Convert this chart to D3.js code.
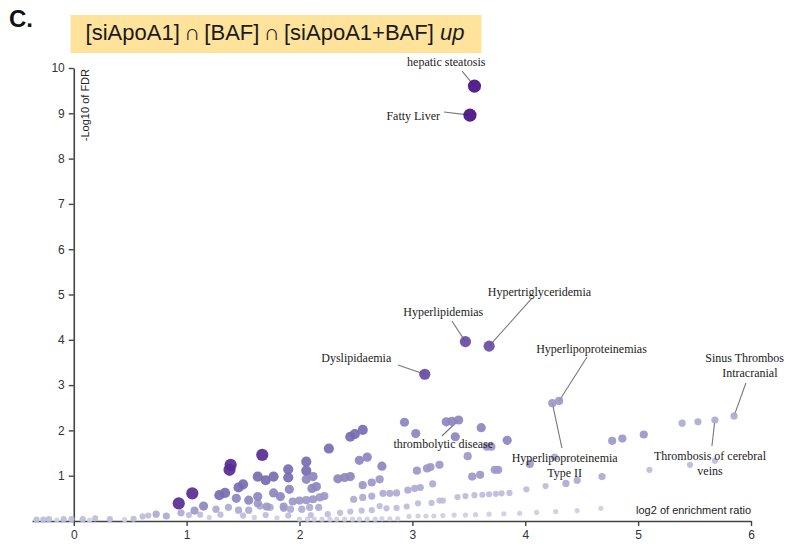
<!DOCTYPE html>
<html><head><meta charset="utf-8">
<script src="https://cdn.jsdelivr.net/npm/d3@7"></script>
<style>body{margin:0;background:#fff} svg{display:block}</style>
</head><body><svg id="c" width="787" height="550"></svg>
<script>
// ---------- data ----------
const xTicks = [0, 1, 2, 3, 4, 5, 6];
const yTicks = [1, 2, 3, 4, 5, 6, 7, 8, 9, 10];
const xTitle = "log2 of enrichment ratio";
const yTitle = "-Log10 of FDR";

// labelled terms
const termNames = ["hepatic steatosis", "Fatty Liver", "Hyperlipidemias", "Hypertriglyceridemia", "Dyslipidaemia",
  "Hyperlipoproteinemias", "Hyperlipoproteinemia Type II", "thrombolytic disease", "Thrombosis of cerebral veins",
  "Sinus Thrombos Intracranial"];
const termX = [3.55, 3.51, 3.47, 3.68, 3.11, 4.30, 4.24, 3.41, 5.68, 5.85];
const termY = [9.60, 8.96, 3.96, 3.86, 3.24, 2.65, 2.60, 2.23, 2.23, 2.32];
const termLevel = [9, 9, 7, 7, 7, 4, 4, 5, 3, 3];

// other terms, grouped by overlap level (1 = smallest overlap)
const level8 = [[0.93,0.39],[1.05,0.61],[1.38,1.13],[1.39,1.24],[1.67,1.46]];
const level6 = [[2.26,1.60],[2.45,1.86],[2.49,1.92],[2.56,2.01],[1.29,0.57],[1.34,0.62],[1.46,0.74],[1.50,0.81],
  [1.63,0.98],[1.70,0.90],[1.77,0.98],[1.90,1.14],[1.90,0.96],[2.06,1.31],[2.06,1.11]];
const level5 = [[2.53,1.34],[2.60,1.41],[2.73,1.21],[2.93,2.18],[3.03,1.93],[3.30,2.19],[3.35,2.20],[3.38,1.86],
  [3.61,2.06],[3.84,1.78],[1.15,0.33],[1.44,0.50],[1.55,0.46],[1.63,0.54],[1.77,0.62],[1.83,0.54],[2.06,0.92],
  [2.12,0.98],[2.11,0.72],[2.15,0.76],[2.34,0.93],[2.40,0.96],[2.45,0.98],[1.91,0.70]];
const level4 = [[3.49,1.43],[3.66,1.64],[3.70,1.64],[3.13,1.16],[3.16,1.19],[3.24,1.24],[3.04,1.11],[3.53,0.98],
  [3.60,1.02],[3.73,1.13],[3.76,1.13],[2.56,0.79],[2.64,0.85],[2.71,0.92],[1.07,0.23],[1.63,0.39],[1.71,0.32],
  [1.86,0.32],[1.94,0.43],[2.00,0.45],[2.06,0.46],[2.12,0.48],[2.18,0.52],[2.22,0.55],[4.77,1.77],[4.86,1.82],
  [5.05,1.91],[4.04,1.26]];
const level3 = [[5.39,2.16],[5.53,2.19],[4.26,1.41],[2.48,0.48],[2.56,0.52],[2.64,0.55],[2.74,0.61],[2.80,0.61],
  [2.86,0.62],[2.96,0.68],[3.02,0.72],[3.07,0.74],[3.18,0.82],[4.36,0.83],[4.46,0.90],[4.68,0.98],[0.95,0.18],
  [1.26,0.26],[1.37,0.30],[1.46,0.24],[1.55,0.24],[1.65,0.33],[1.74,0.30],[1.86,0.28],[1.92,0.26],[2.02,0.26],
  [2.09,0.30],[2.17,0.30],[0.73,0.15],[0.82,0.11]];
const level2 = [[5.10,1.13],[5.46,1.24],[5.68,1.33],[3.05,0.39],[3.17,0.40],[3.24,0.45],[3.27,0.45],[3.40,0.53],
  [3.47,0.55],[3.55,0.57],[3.62,0.58],[3.68,0.59],[3.74,0.60],[3.79,0.61],[3.86,0.62],[4.01,0.70],[4.18,0.77],
  [2.36,0.18],[2.45,0.21],[2.55,0.23],[2.64,0.24],[2.71,0.33],[2.77,0.28],[2.86,0.29],[2.95,0.32],[0.61,0.10],
  [0.66,0.12],[1.02,0.13],[1.12,0.14],[1.30,0.14],[1.50,0.12],[1.70,0.13],[1.90,0.12],[2.10,0.13],[2.25,0.15],
  [-0.33,0.03],[-0.27,0.03],[-0.22,0.04],[-0.09,0.04],[-0.02,0.04],[0.08,0.04],[0.19,0.06],[0.32,0.04],[0.53,0.05]];
const level1 = [[2.00,0.04],[2.07,0.04],[2.13,0.04],[2.20,0.04],[2.27,0.04],[2.33,0.04],[2.40,0.04],[2.47,0.04],
  [2.53,0.04],[2.60,0.04],[2.67,0.04],[2.73,0.05],[2.80,0.05],[2.87,0.05],[2.97,0.10],[3.05,0.11],[3.12,0.11],
  [3.19,0.11],[3.27,0.12],[3.37,0.13],[3.47,0.13],[3.56,0.14],[3.68,0.15],[3.81,0.16],[3.95,0.17],[4.10,0.19],
  [4.27,0.21],[4.46,0.23],[4.67,0.28],[-0.15,0.02],[0.14,0.02],[0.45,0.03],[1.20,0.08],[1.60,0.08],[1.80,0.07]];

// ---------- drawing ----------
const svg = d3.select("#c");
const x = d3.scaleLinear().domain([-0.37, 6]).range([32, 751]);
const y = d3.scaleLinear().domain([0, 10]).range([521, 68]);
const col = d3.scaleLinear().domain([1, 5, 9]).range([0.3, 0.58, 0.95]);
const rad = d3.scaleLinear().domain([1, 9]).range([2.6, 6.6]);
const color = l => d3.interpolatePurples(col(l));

// title
svg.append("text").attr("x", 9).attr("y", 27).attr("font-family", "Liberation Sans, Arial, sans-serif")
  .attr("font-size", 24).attr("font-weight", "bold").attr("fill", "#111").text("C.");
svg.append("rect").attr("x", 70.5).attr("y", 15).attr("width", 411).attr("height", 38).attr("fill", "#FFE39B");
const tt = svg.append("text").attr("x", 275).attr("y", 40).attr("text-anchor", "middle")
  .attr("font-family", "Liberation Sans, Arial, sans-serif").attr("font-size", 22).attr("fill", "#1a1a1a");
tt.append("tspan").text("[siApoA1]\u2009∩\u2009[BAF]\u2009∩\u2009[siApoA1+BAF] ");
tt.append("tspan").attr("font-style", "italic").text("up");

// axes
const xAxis = svg.append("g").attr("transform", `translate(0,${y(0)})`)
  .call(d3.axisBottom(x).tickValues(xTicks).tickFormat(d3.format("d")).tickSize(5).tickSizeOuter(0).tickPadding(4));
const yAxis = svg.append("g").attr("transform", `translate(${x(0)},0)`)
  .call(d3.axisLeft(y).tickValues(yTicks).tickFormat(d3.format("d")).tickSize(5).tickSizeOuter(0).tickPadding(4));
[xAxis, yAxis].forEach(g => {
  g.select(".domain").attr("stroke", "#444").attr("stroke-width", 1.6);
  g.selectAll(".tick line").attr("stroke", "#444").attr("stroke-width", 1.4);
  g.selectAll(".tick text").attr("font-family", "Liberation Sans, Arial, sans-serif").attr("font-size", 12).attr("fill", "#333");
});

svg.append("text").attr("x", x(6)).attr("y", 514).attr("text-anchor", "end")
  .attr("font-family", "Liberation Sans, Arial, sans-serif").attr("font-size", 11).attr("fill", "#222").text(xTitle);
svg.append("text").attr("transform", `translate(${x(0) + 15},${y(10) + 1}) rotate(-90)`).attr("text-anchor", "end")
  .attr("font-family", "Liberation Sans, Arial, sans-serif").attr("font-size", 11).attr("fill", "#222").text(yTitle);

// annotation leader lines and labels (positions in data units)
const labelLines = [
  {i:0, lines:["hepatic steatosis"], lx:3.30, ly:10.04, anchor:"middle", sx:3.44, sy:9.93},
  {i:1, lines:["Fatty Liver"], lx:3.245, ly:8.85, anchor:"end", sx:3.28, sy:9.03},
  {i:2, lines:["Hyperlipidemias"], lx:3.274, ly:4.525, anchor:"middle", sx:3.35, sy:4.415},
  {i:3, lines:["Hypertriglyceridemia"], lx:4.126, ly:4.967, anchor:"middle", sx:4.06, sy:4.92},
  {i:4, lines:["Dyslipidaemia"], lx:2.503, ly:3.517, anchor:"middle", sx:2.872, sy:3.444},
  {i:5, lines:["Hyperlipoproteinemias"], lx:4.587, ly:3.709, anchor:"middle", sx:4.547, sy:3.62},
  {i:6, lines:["Hyperlipoproteinemia", "Type II"], lx:4.349, ly:1.309, anchor:"middle", sx:4.325, sy:1.611},
  {i:7, lines:["thrombolytic disease"], lx:3.274, ly:1.605, anchor:"middle", sx:3.262, sy:1.876},
  {i:8, lines:["Thrombosis of cerebral", "veins"], lx:5.637, ly:1.347, anchor:"middle", sx:5.654, sy:1.656},
  {i:9, lines:["Sinus Thrombos", "Intracranial"], lx:5.99, ly:3.517, anchor:"middle", sx:5.955, sy:3.046}
];

const levels = [[1, level1], [2, level2], [3, level3], [4, level4], [5, level5], [6, level6], [8, level8]];
const pts = [];
levels.forEach(([l, arr]) => arr.forEach(d => pts.push({x: d[0], y: d[1], l})));
termNames.forEach((n, i) => pts.push({x: termX[i], y: termY[i], l: termLevel[i]}));
pts.sort((a, b) => a.l - b.l);

const lineG = svg.append("g");
lineG.selectAll("line").data(labelLines).join("line")
  .attr("x1", d => x(d.sx)).attr("y1", d => y(d.sy))
  .attr("x2", d => x(termX[d.i])).attr("y2", d => y(termY[d.i]))
  .attr("stroke", "#777").attr("stroke-width", 1.1);

svg.append("g").selectAll("circle").data(pts).join("circle")
  .attr("cx", d => x(d.x)).attr("cy", d => y(d.y)).attr("r", d => rad(d.l))
  .attr("fill", d => color(d.l)).attr("fill-opacity", 0.92);

const labG = svg.append("g");
labelLines.forEach(d => {
  const t = labG.append("text").attr("x", x(d.lx)).attr("y", y(d.ly)).attr("text-anchor", d.anchor)
    .attr("font-family", "Liberation Serif, Times New Roman, serif").attr("font-size", 12).attr("fill", "#222");
  d.lines.forEach((s, k) => t.append("tspan").attr("x", x(d.lx)).attr("dy", k ? 15.5 : 0).text(s));
});
// keep the clipped first line inside the picture, left edge matching the reference
labG.selectAll("text").filter((d, k) => k === labelLines.length - 1).select("tspan")
  .attr("text-anchor", "end").attr("x", x(6.0) + 33);
</script></body></html>
